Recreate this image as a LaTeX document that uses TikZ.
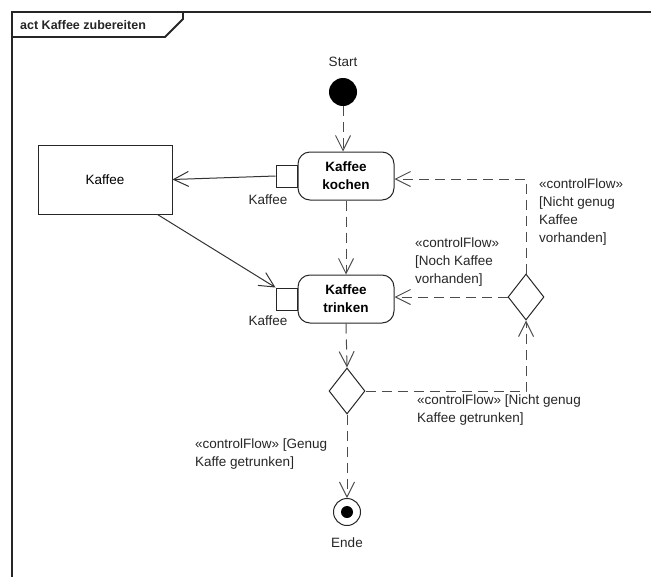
\documentclass[tikz,border=0pt]{standalone}
\usepackage{fontspec}
\setmainfont{Liberation Sans}
\usetikzlibrary{arrows.meta,shapes.geometric,calc}

\newcommand{\diagfont}{\fontsize{13.5}{18}\selectfont}

\tikzset{
  ink/.style={draw=black!85, line width=1pt},
  action/.style={ink, rounded corners=12pt, minimum width=96pt, minimum height=48pt,
    align=center, font=\diagfont\bfseries, inner sep=2pt},
  pinbox/.style={ink, minimum width=21pt, minimum height=22pt, inner sep=0pt},
  objbox/.style={ink, minimum width=134pt, minimum height=69pt},
  decision/.style={ink, diamond, minimum width=36pt, minimum height=46pt, inner sep=0pt},
  barb/.style={-{Straight Barb[length=15pt,width=15pt,line width=1pt]}},
  flow/.style={draw=black!70, line width=1pt, dash pattern=on 10pt off 6pt, barb},
  objflow/.style={draw=black!80, line width=1pt, barb},
  guard/.style={align=left, anchor=north west, inner sep=0pt, text=black!85},
  txt/.style={inner sep=0pt, text=black!85}
}

\begin{document}
\begin{tikzpicture}[x=1pt, y=-1pt, font=\diagfont]
  \useasboundingbox (0,0) rectangle (651,576);

  % frame with name tab (right and bottom edges lie beyond the page)
  \begin{scope}
    \clip (0,0) rectangle (651,576);
    \draw[black!85, line width=1.8pt] (12,600) -- (12,12) -- (660,12);
    \draw[black!85, line width=1.8pt] (12,37) -- (165,37) -- (183,19) -- (183,12);
  \end{scope}
  \node[txt, font=\fontsize{12.5}{15}\selectfont\bfseries, anchor=west] (title) at (20,25) {act Kaffee zubereiten};

  % nodes
  \node[circle, fill=black, minimum size=28pt, inner sep=0pt] (start) at (343,92) {};
  \node[txt] (startlbl) at (343,62) {Start};

  \node[action] (kochen) at (346,176) {Kaffee\\kochen};
  \node[pinbox, anchor=east] (kochenpin) at (kochen.west) {};
  \node[txt] (kochenpinlbl) at (268,200) {Kaffee};

  \node[action] (trinken) at (346,299) {Kaffee\\trinken};
  \node[pinbox, anchor=east] (trinkenpin) at (trinken.west) {};
  \node[txt] (trinkenpinlbl) at (268,321) {Kaffee};

  \node[objbox] (kaffee) at (105,179.5) {Kaffee};

  \node[decision] (dec1) at (347,391) {};
  \node[decision] (dec2) at (526,297) {};

  \node[circle, ink, minimum size=27pt, inner sep=0pt] (ende) at (347,512) {};
  \node[circle, fill=black, minimum size=12pt, inner sep=0pt] (endedot) at (ende.center) {};
  \node[txt] (endelbl) at (347,543) {Ende};

  % object flows
  \draw[objflow] (kochenpin.west) -- (kaffee.east);
  \draw[objflow] ([xshift=-15pt]kaffee.south east) -- (trinkenpin.north west);

  % control flows
  \draw[flow] (start) -- (start |- kochen.north);
  \draw[flow] (kochen.south) -- (trinken.north);
  \draw[flow] (trinken.south) -- (dec1.north);
  \draw[flow] (dec1.south) -- (ende.north);
  \draw[flow] (dec1.east) -| (dec2.south);
  \draw[flow] (dec2.west) -- (dec2.west -| trinken.east);
  \draw[flow] (dec2.north) |- ([yshift=-3pt]kochen.east);

  % guards
  \node[guard] (g1) at (539,179) {«controlFlow»\\{}[Nicht genug\\Kaffee\\vorhanden]};
  \node[guard] (g2) at (415,238) {«controlFlow»\\{}[Noch Kaffee\\vorhanden]};
  \node[guard] (g3) at (417,395) {«controlFlow» [Nicht genug\\Kaffee getrunken]};
  \node[guard] (g4) at (195,439) {«controlFlow» [Genug\\Kaffe getrunken]};
\end{tikzpicture}
\end{document}
